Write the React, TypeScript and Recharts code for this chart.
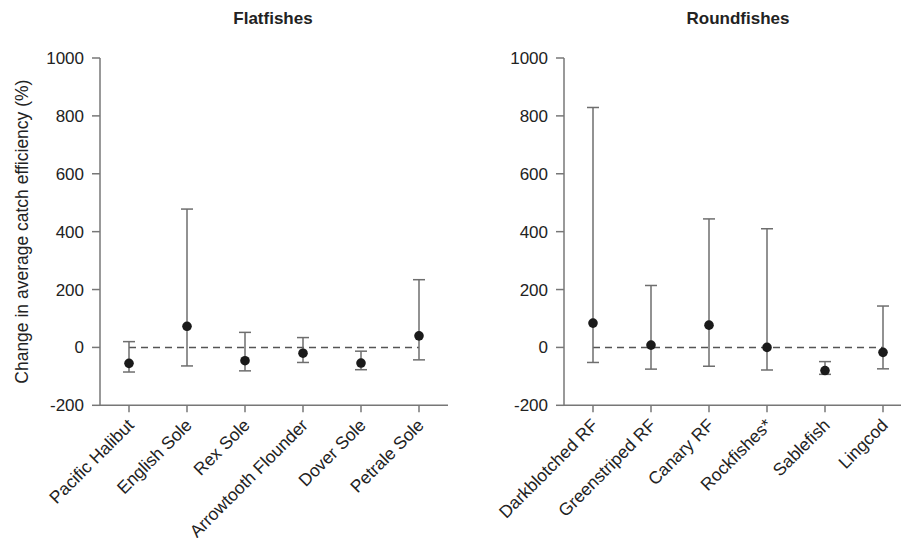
import { ComposedChart, Scatter, ErrorBar, XAxis, YAxis, ReferenceLine } from "recharts";

const flatNames = ["Pacific Halibut", "English Sole", "Rex Sole", "Arrowtooth Flounder", "Dover Sole", "Petrale Sole"];
const flatMean = [-55, 73, -46, -20, -54, 40];
const flatLow = [-85, -64, -81, -52, -77, -43];
const flatHigh = [20, 478, 52, 34, -13, 234];

const roundNames = ["Darkblotched RF", "Greenstriped RF", "Canary RF", "Rockfishes*", "Sablefish", "Lingcod"];
const roundMean = [84, 8, 77, 0, -80, -17];
const roundLow = [-52, -75, -65, -78, -93, -74];
const roundHigh = [829, 214, 444, 410, -49, 143];

const yTicks = [-200, 0, 200, 400, 600, 800, 1000];

const FONT = "Arial, 'Liberation Sans', Helvetica, sans-serif";
const AXIS = "#777";
const TEXT = "#222";

function build(names: string[], mean: number[], low: number[], high: number[]) {
  return names.map((name, i) => ({
    name,
    value: mean[i],
    err: [mean[i] - low[i], high[i] - mean[i]],
  }));
}

const XTick = (props: any) => {
  const { x, y, payload } = props;
  const ax = x + 6;
  const ay = y + 12;
  return (
    <text
      x={ax}
      y={ay}
      transform={`rotate(-45 ${ax} ${ay})`}
      textAnchor="end"
      fill={TEXT}
      fontSize={17.5}
      fontFamily={FONT}
    >
      {payload.value}
    </text>
  );
};

const Dot = (props: any) => <circle cx={props.cx} cy={props.cy} r={4.8} fill="#1a1a1a" />;

function Panel({ names, mean, low, high, width, yWidth, showLabel }: any) {
  const data = build(names, mean, low, high);
  return (
    <ComposedChart width={width} height={538} data={data} margin={{ top: 58, right: 0, bottom: 0, left: 0 }}>
      <XAxis
        dataKey="name"
        type="category"
        interval={0}
        height={132.7}
        padding={{ left: 29, right: 29 }}
        tick={<XTick />}
        tickSize={7}
        axisLine={{ stroke: AXIS, strokeWidth: 1.5 }}
        tickLine={{ stroke: AXIS, strokeWidth: 1.5 }}
      />
      <YAxis
        type="number"
        domain={[-200, 1000]}
        ticks={yTicks}
        width={yWidth}
        tickSize={8}
        tickMargin={8}
        tick={{ fill: TEXT, fontSize: 17, fontFamily: FONT }}
        axisLine={{ stroke: AXIS, strokeWidth: 1.5 }}
        tickLine={{ stroke: AXIS, strokeWidth: 1.5 }}
        label={
          showLabel
            ? (p: any) => {
                const vb = p.viewBox;
                const cx = vb.x + 22;
                const cy = vb.y + vb.height / 2;
                return (
                  <text
                    x={cx}
                    y={cy}
                    transform={`rotate(-90 ${cx} ${cy})`}
                    textAnchor="middle"
                    dominantBaseline="central"
                    fill={TEXT}
                    fontSize={17.5}
                    fontFamily={FONT}
                  >
                    Change in average catch efficiency (%)
                  </text>
                );
              }
            : undefined
        }
      />
      <ReferenceLine
        segment={[
          { x: names[0], y: 0 },
          { x: names[names.length - 1], y: 0 },
        ]}
        stroke="#555"
        strokeWidth={1.5}
        strokeDasharray="7 5"
      />
      <Scatter dataKey="value" shape={<Dot />} isAnimationActive={false}>
        <ErrorBar dataKey="err" direction="y" width={6} stroke="#6e6e6e" strokeWidth={1.5} />
      </Scatter>
    </ComposedChart>
  );
}

export default function App() {
  return (
    <div
      style={{
        position: "absolute",
        left: 0,
        top: 0,
        width: 901,
        height: 538,
        overflow: "hidden",
        background: "#fff",
        fontFamily: FONT,
      }}
    >
      <div
        style={{
          position: "absolute",
          left: 0,
          top: 9,
          width: 546,
          textAlign: "center",
          fontWeight: "bold",
          fontSize: 17,
          color: TEXT,
        }}
      >
        Flatfishes
      </div>
      <div
        style={{
          position: "absolute",
          left: 450,
          top: 9,
          width: 576,
          textAlign: "center",
          fontWeight: "bold",
          fontSize: 17,
          color: TEXT,
        }}
      >
        Roundfishes
      </div>
      <div style={{ position: "absolute", left: 0, top: 0 }}>
        <Panel names={flatNames} mean={flatMean} low={flatLow} high={flatHigh} width={448} yWidth={100} showLabel />
      </div>
      <div style={{ position: "absolute", left: 450, top: 0 }}>
        <Panel names={roundNames} mean={roundMean} low={roundLow} high={roundHigh} width={462} yWidth={114} showLabel={false} />
      </div>
    </div>
  );
}
